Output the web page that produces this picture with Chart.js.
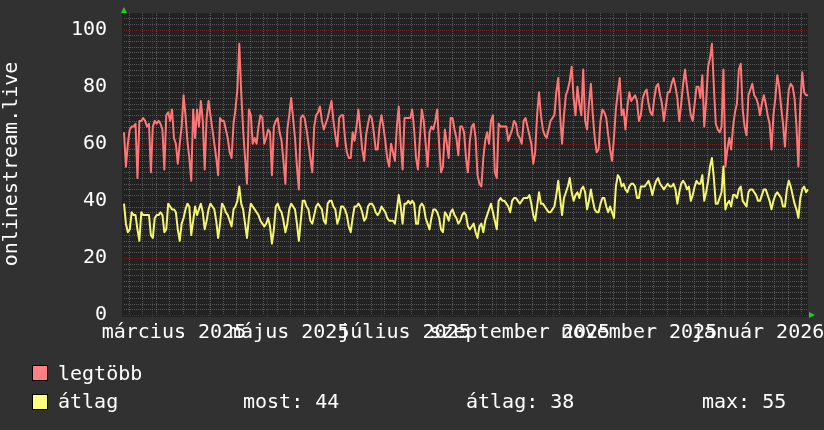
<!DOCTYPE html>
<html>
<head>
<meta charset="utf-8">
<script src="https://cdn.jsdelivr.net/npm/chart.js"></script>
<style>
  html, body { margin: 0; padding: 0; background: #313131; }
  #wrap { position: relative; width: 824px; height: 430px; font-family: 'DejaVu Sans Mono', monospace; font-size: 20px; color: #fff; }
  canvas { position: absolute; left: 0; top: 0; }
  .sq { position: absolute; width: 14px; height: 14px; border: 1px solid #000; }
  .txt { position: absolute; line-height: 24px; white-space: pre; }
</style>
</head>
<body>
<div id="wrap">
  <canvas id="myChart" width="824" height="430"></canvas>
  <div class="sq" style="left:32px; top:365px; background:#ff8080;"></div>
  <div class="txt" style="left:58px; top:361px;">legtöbb</div>
  <div class="sq" style="left:32px; top:394px; background:#ffff80;"></div>
  <div class="txt" style="left:58px; top:389px;">átlag</div>
  <div class="txt" id="most" style="left:243px; top:389px;"></div>
  <div class="txt" id="atl" style="left:466px; top:389px;"></div>
  <div class="txt" id="max" style="left:702px; top:389px;"></div>
</div>
<script>
const legtobb = [
  64, 52, 60, 65, 66, 66, 67,
  48, 68, 68, 69, 68, 66, 67,
  50, 66, 68, 67, 68, 67, 65,
  51, 70, 71, 68, 72, 62, 60,
  53, 60, 66, 77, 70, 61, 55,
  47, 72, 62, 72, 66, 75, 68,
  51, 69, 75, 70, 65, 60, 55,
  49, 69, 68, 68, 65, 62, 57,
  55, 67, 72, 79, 95, 78, 65,
  55, 46, 72, 70, 60, 62, 60,
  66, 70, 69, 60, 62, 65, 64,
  49, 66, 68, 69, 64, 61, 54,
  46, 65, 70, 76, 69, 62, 52,
  44, 69, 70, 69, 65, 60, 55,
  50, 66, 70, 71, 73, 68, 65,
  67, 69, 72, 75, 68, 63, 59,
  69, 70, 70, 62, 57, 55, 55,
  64, 61, 66, 72, 65, 58, 54,
  63, 67, 70, 69, 64, 58, 58,
  66, 70, 66, 61, 55, 52, 60,
  57, 54, 66, 73, 60, 51, 69,
  69, 69, 69, 72, 65, 55, 51,
  62, 72, 68, 60, 52, 64, 66,
  65, 68, 72, 60, 50, 52, 65,
  60, 55, 69, 69, 65, 62, 56,
  66, 66, 64, 55, 50, 61, 66,
  67, 62, 49, 46, 45, 55, 61,
  64, 60, 68, 70, 50, 48, 67,
  66, 66, 66, 66, 61, 63, 65,
  68, 67, 63, 62, 60, 68, 69,
  66, 63, 60, 53, 57, 70, 78,
  70, 65, 63, 62, 65, 68, 69,
  70, 78, 83, 70, 60, 70, 77,
  79, 82, 87, 76, 70, 80, 74,
  70, 86, 68, 65, 74, 81, 70,
  62, 57, 58, 68, 72, 71, 69,
  63, 58, 54, 62, 72, 78, 83,
  70, 72, 65, 73, 78, 75, 76,
  77, 75, 68, 70, 76, 78, 79,
  74, 71, 70, 76, 80, 81, 77,
  74, 68, 73, 78, 78, 81, 83,
  80, 76, 68, 74, 81, 86, 80,
  75, 70, 68, 74, 80, 80, 76,
  84, 66, 75, 87, 90, 95, 80,
  67, 65, 64, 66, 86, 52, 58,
  62, 58, 66, 71, 74, 86, 88,
  72, 66, 63, 77, 79, 81, 77,
  76, 74, 70, 74, 77, 74, 70,
  67, 58, 70, 76, 84, 80, 73,
  67, 59, 70, 79, 81, 80, 76,
  66, 52, 74, 85, 78, 77, 77
];

const atlag = [
  39, 32, 29, 30, 36, 35, 35,
  30, 26, 36, 35, 35, 35, 35,
  28, 27, 34, 35, 35, 36, 35,
  29, 30, 39, 38, 37, 37, 36,
  30, 26, 32, 34, 37, 39, 38,
  28, 33, 38, 35, 37, 39, 36,
  30, 33, 37, 39, 38, 37, 33,
  27, 32, 39, 38, 36, 35, 33,
  31, 37, 38, 40, 45, 39, 37,
  32, 27, 34, 39, 38, 37, 36,
  35, 33, 32, 31, 32, 34, 31,
  25, 30, 38, 39, 37, 36, 33,
  29, 32, 37, 39, 38, 37, 32,
  26, 33, 40, 40, 38, 37, 33,
  32, 35, 38, 39, 38, 37, 33,
  32, 39, 40, 40, 38, 37, 32,
  34, 38, 38, 37, 35, 31, 29,
  34, 38, 38, 39, 38, 36, 33,
  34, 38, 39, 39, 38, 36, 35,
  36, 38, 37, 36, 34, 33, 33,
  33, 32, 37, 42, 38, 32, 39,
  39, 40, 39, 40, 39, 32, 32,
  38, 39, 38, 34, 32, 30, 34,
  37, 37, 36, 34, 30, 29, 36,
  35, 33, 36, 37, 35, 34, 32,
  33, 35, 36, 35, 31, 30, 31,
  32, 29, 27, 31, 32, 29, 33,
  35, 37, 39, 36, 33, 30, 40,
  41, 40, 40, 39, 38, 36, 40,
  41, 41, 40, 39, 40, 41, 41,
  41, 42, 39, 35, 33, 38, 43,
  39, 39, 38, 37, 36, 36, 37,
  38, 42, 47, 41, 35, 41, 43,
  45, 48, 43, 40, 42, 43, 41,
  44, 45, 43, 37, 40, 44, 40,
  37, 36, 36, 39, 41, 41, 38,
  36, 38, 36, 34, 45, 49, 48,
  45, 46, 44, 43, 45, 46, 46,
  45, 41, 41, 45, 45, 45, 46,
  47, 45, 42, 45, 47, 48, 46,
  45, 44, 45, 46, 45, 45, 46,
  44, 39, 43, 46, 47, 46, 44,
  45, 40, 42, 45, 47, 46, 46,
  49, 40, 43, 47, 52, 55, 48,
  39, 39, 41, 43, 52, 37, 39,
  40, 38, 42, 42, 41, 44, 45,
  40, 39, 38, 43, 44, 44, 43,
  42, 40, 40, 42, 44, 44, 42,
  40, 37, 40, 42, 43, 42, 41,
  38, 38, 44, 47, 45, 42, 39,
  37, 34, 41, 44, 45, 43, 44
];

const tickLabels = ['március 2025', 'május 2025', 'július 2025', 'szeptember 2025', 'november 2025', 'január 2026'];
const tickDays = [26, 86, 146, 206, 268, 330];
const yLabels = [0, 20, 40, 60, 80, 100];

const startDate = Date.UTC(2025, 1, 3);
const days = legtobb.map((v, i) => new Date(startDate + i * 86400000).toISOString().slice(0, 10));

const font = {family: 'DejaVu Sans Mono', size: 20};

const rrdGrid = {
  id: 'rrdGrid',
  beforeDatasetsDraw(chart) {
    const {ctx, chartArea: a, scales: {x, y}} = chart;
    ctx.save();
    ctx.fillStyle = '#222222';
    ctx.fillRect(a.left - 2, a.top, a.right - a.left + 2, a.bottom - a.top + 2);
    ctx.lineWidth = 1;
    ctx.setLineDash([1, 1]);

    ctx.strokeStyle = 'rgba(140,140,140,0.5)';
    ctx.beginPath();
    for (let d = 2.5; d < days.length; d += 7) {
      const px = Math.round(x.getPixelForValue(d)) + 0.5;
      ctx.moveTo(px, a.top); ctx.lineTo(px, a.bottom);
    }
    for (let v = 2; v < y.max; v += 2) {
      if (v % 20 === 0) continue;
      const py = Math.round(y.getPixelForValue(v)) + 0.5;
      ctx.moveTo(a.left, py); ctx.lineTo(a.right, py);
    }
    ctx.stroke();

    ctx.strokeStyle = 'rgba(200,40,40,0.45)';
    ctx.beginPath();
    for (let d = 14.6; d < days.length; d += 29.8) {
      const px = Math.round(x.getPixelForValue(d)) + 0.5;
      ctx.moveTo(px, a.top); ctx.lineTo(px, a.bottom + 3);
    }
    yLabels.forEach(v => {
      const py = Math.round(y.getPixelForValue(v)) + 0.5;
      ctx.moveTo(a.left, py); ctx.lineTo(a.right, py);
    });
    ctx.stroke();
    ctx.restore();
  },
  afterDraw(chart) {
    const {ctx, chartArea: a} = chart;
    ctx.save();
    ctx.fillStyle = '#22cc22';
    ctx.beginPath();
    ctx.moveTo(a.left - 3, a.top);
    ctx.lineTo(a.left + 3, a.top);
    ctx.lineTo(a.left, a.top - 6);
    ctx.closePath();
    ctx.fill();
    ctx.beginPath();
    ctx.moveTo(a.right + 1, a.bottom - 3);
    ctx.lineTo(a.right + 1, a.bottom + 3);
    ctx.lineTo(a.right + 7, a.bottom);
    ctx.closePath();
    ctx.fill();
    ctx.restore();
  }
};

const ctx = document.getElementById('myChart').getContext('2d');

const myChart = new Chart(ctx, {
    type: 'line',
    data: {
        labels: days,
        datasets: [{
            label: 'legtöbb',
            data: legtobb,
            borderColor: '#ff7676',
            borderWidth: 2,
            borderJoinStyle: 'round',
            pointRadius: 0,
            tension: 0
        }, {
            label: 'átlag',
            data: atlag,
            borderColor: '#f6f66e',
            borderWidth: 2,
            borderJoinStyle: 'round',
            pointRadius: 0,
            tension: 0
        }]
    },
    options: {
        responsive: false,
        animation: false,
        devicePixelRatio: 1,
        layout: {padding: {top: 13, right: 16, left: 0, bottom: 0}},
        plugins: {legend: {display: false}, tooltip: {enabled: false}},
        scales: {
            x: {
                grid: {display: false, drawTicks: false},
                border: {display: false},
                ticks: {
                    autoSkip: false,
                    maxRotation: 0,
                    minRotation: 0,
                    padding: 6,
                    color: '#ffffff',
                    font: font,
                    callback: (value, index) => {
                        const k = tickDays.indexOf(index);
                        return k >= 0 ? tickLabels[k] : '';
                    }
                },
                afterFit: scale => {
                    scale.height = 115;
                    scale.paddingLeft = 0;
                    scale.paddingRight = 0;
                }
            },
            y: {
                min: 0,
                max: 105.8,
                grid: {display: false, drawTicks: false},
                border: {display: false},
                ticks: {
                    stepSize: 20,
                    includeBounds: false,
                    padding: 17,
                    color: '#ffffff',
                    font: font
                },
                title: {
                    display: true,
                    text: 'onlinestream.live',
                    color: '#ffffff',
                    font: font,
                    padding: {top: 0, bottom: 0}
                },
                afterFit: scale => {
                    scale.width = 124;
                    scale.paddingTop = 0;
                    scale.paddingBottom = 0;
                }
            }
        }
    },
    plugins: [rrdGrid]
});

const mean = atlag.reduce((s, v) => s + v, 0) / atlag.length;
document.getElementById('most').textContent = 'most: ' + atlag[atlag.length - 1];
document.getElementById('atl').textContent = 'átlag: ' + Math.round(mean);
document.getElementById('max').textContent = 'max: ' + Math.max(...atlag);
</script>
</body>
</html>
